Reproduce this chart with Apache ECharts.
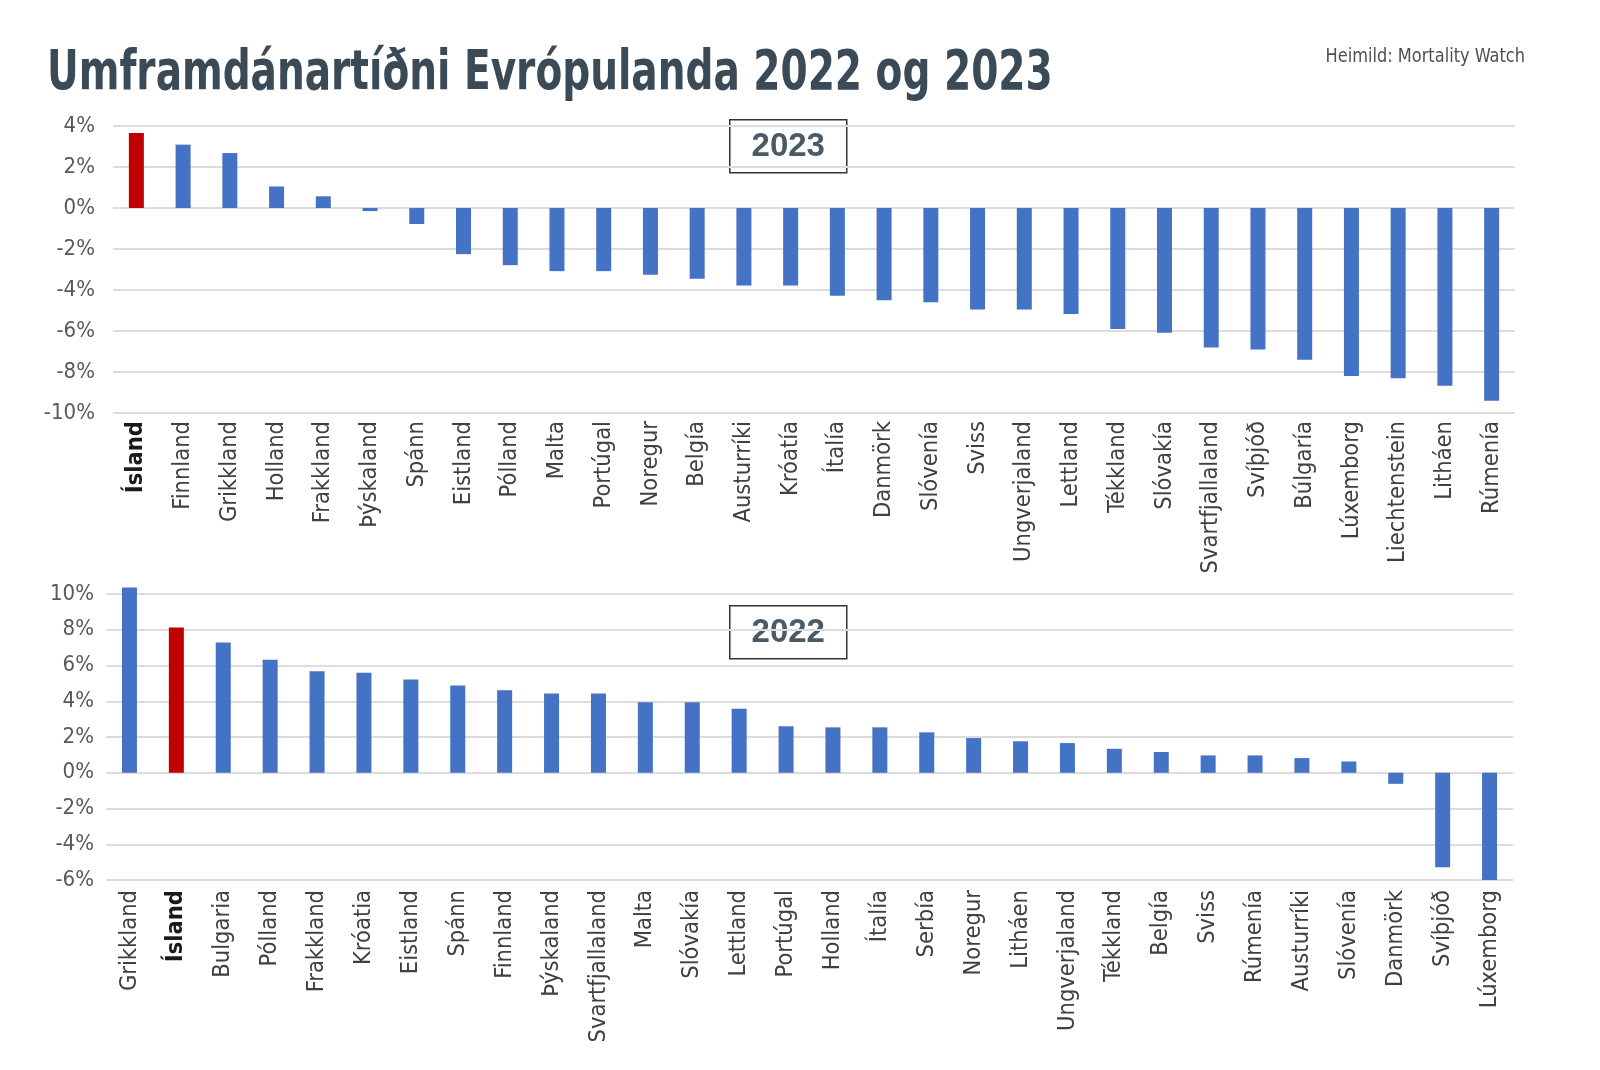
<!DOCTYPE html>
<html>
<head>
<meta charset="utf-8">
<script src="https://cdn.jsdelivr.net/npm/echarts@6/dist/echarts.min.js"></script>
<style>
html,body{margin:0;padding:0;background:#fff;}
#c{width:1600px;height:1070px;}
</style>
</head>
<body>
<div id="c"></div>
<script>
// ---- data ----
const title = 'Umframdánartíðni Evrópulanda 2022 og 2023';
const source = 'Heimild: Mortality Watch';
const highlight = 'Ísland';

const cats2023 = ['Ísland','Finnland','Grikkland','Holland','Frakkland','Þýskaland','Spánn','Eistland','Pólland','Malta','Portúgal','Noregur','Belgía','Austurríki','Króatía','Ítalía','Danmörk','Slóvenía','Sviss','Ungverjaland','Lettland','Tékkland','Slóvakía','Svartfjallaland','Svíþjóð','Búlgaría','Lúxemborg','Liechtenstein','Litháen','Rúmenía'];
const vals2023 = [3.66, 3.09, 2.68, 1.05, 0.57, -0.15, -0.78, -2.25, -2.79, -3.08, -3.08, -3.25, -3.45, -3.78, -3.78, -4.28, -4.5, -4.6, -4.95, -4.95, -5.17, -5.9, -6.08, -6.8, -6.9, -7.4, -8.2, -8.3, -8.67, -9.4];

const cats2022 = ['Grikkland','Ísland','Bulgaria','Pólland','Frakkland','Króatia','Eistland','Spánn','Finnland','Þýskaland','Svartfjallaland','Malta','Slóvakía','Lettland','Portúgal','Holland','Ítalía','Serbía','Noregur','Litháen','Ungverjaland','Tékkland','Belgía','Sviss','Rúmenía','Austurríki','Slóvenía','Danmörk','Svíþjóð','Lúxemborg'];
const vals2022 = [10.37, 8.13, 7.29, 6.32, 5.68, 5.59, 5.21, 4.88, 4.62, 4.43, 4.43, 3.94, 3.94, 3.58, 2.6, 2.54, 2.54, 2.26, 1.94, 1.76, 1.66, 1.34, 1.16, 0.97, 0.97, 0.82, 0.63, -0.62, -5.28, -6.0];

const yTicks2023 = {min: -10, max: 4, interval: 2};
const yTicks2022 = {min: -6, max: 10, interval: 2};

// ---- style ----
const BLUE = '#4472C4', RED = '#C00000';
const NARROW = "'DejaVu Sans Condensed','Liberation Sans Narrow',sans-serif";

function barData(cats, vals){
  return vals.map((v,i)=>({value:v, itemStyle:{color: cats[i]===highlight ? RED : BLUE}}));
}
function xAxisCfg(idx, cats, margin){
  return {
    type:'category', gridIndex: idx, data: cats,
    axisLine:{show:false}, axisTick:{show:false},
    axisLabel:{
      rotate:90, interval:0, margin: margin,
      fontFamily: NARROW, fontSize: 23.5, color:'#404040',
      formatter: v => v===highlight ? '{b|'+v+'}' : v,
      rich:{b:{fontFamily:NARROW, fontSize:23.5, fontWeight:'bold', color:'#1a1a1a'}}
    }
  };
}
function yAxisCfg(idx, t, margin){
  return {
    type:'value', gridIndex: idx, min:t.min, max:t.max, interval:t.interval,
    axisLine:{show:false}, axisTick:{show:false},
    splitLine:{lineStyle:{color:'#dcdcdc', width:2}},
    axisLabel:{fontFamily:NARROW, fontSize:22, color:'#595959', margin: margin,
      formatter: v => v + '%'}
  };
}
function yearBox(label, top){
  return {type:'group', left:729, top:top, children:[
    {type:'rect', shape:{x:0,y:0,width:117,height:53}, style:{fill:'#fff', stroke:'#333', lineWidth:1.5}},
    {type:'text', x:58.5, y:27, style:{text:label, fontFamily:"'Liberation Sans',Arial,sans-serif", fontWeight:'bold', fontSize:33, fill:'#4a5b68', textAlign:'center', textVerticalAlign:'middle'}}
  ]};
}

const chart = echarts.init(document.getElementById('c'), null, {renderer:'canvas'});
chart.setOption({
  backgroundColor:'#ffffff',
  animation:false,
  grid:[
    {left:113, top:126, width:1402, height:287, containLabel:false},
    {left:106, top:594, width:1407, height:286, containLabel:false}
  ],
  xAxis:[ xAxisCfg(0, cats2023, 8), xAxisCfg(1, cats2022, 10) ],
  yAxis:[ yAxisCfg(0, yTicks2023, 18), yAxisCfg(1, yTicks2022, 12) ],
  series:[
    {type:'bar', xAxisIndex:0, yAxisIndex:0, barWidth:15, data: barData(cats2023, vals2023)},
    {type:'bar', xAxisIndex:1, yAxisIndex:1, barWidth:15, clip:false, data: barData(cats2022, vals2022)}
  ],
  graphic:[
    {type:'text', x:47, y:74, scaleX:0.775, style:{text:title, fontFamily:"'DejaVu Sans Condensed',sans-serif", fontWeight:'bold', fontSize:56, fill:'#3a4a56', textAlign:'left', textVerticalAlign:'middle'}},
    {type:'text', x:1525, y:57, scaleX:0.9, style:{text:source, fontFamily:NARROW, fontSize:20, fill:'#505050', textAlign:'right', textVerticalAlign:'middle'}},
    yearBox('2023', 119),
    yearBox('2022', 605)
  ]
});
</script>
</body>
</html>
